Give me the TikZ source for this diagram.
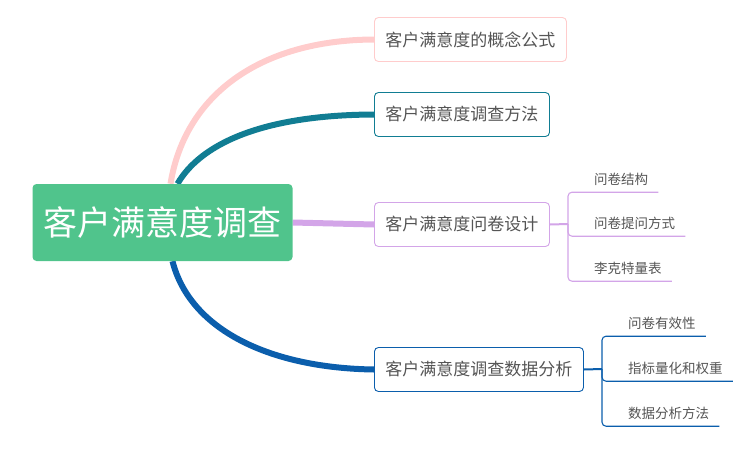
\documentclass[tikz,border=0pt]{standalone}
\usepackage{fontspec}
\setmainfont{Noto Sans CJK SC}
\usepackage{xcolor}
\usetikzlibrary{positioning,calc,backgrounds}
\definecolor{hubgreen}{HTML}{50C48C}
\definecolor{txtgray}{HTML}{555555}
\definecolor{brpink}{HTML}{FFCCCC}
\definecolor{brteal}{HTML}{117D93}
\definecolor{brlilac}{HTML}{D3A5E8}
\definecolor{brblue}{HTML}{0B5EAC}

\begin{document}
\begin{tikzpicture}[
  x=1pt,y=-1pt,
  hub/.style={rectangle,rounded corners=4pt,fill=hubgreen,text=white,
              font=\fontsize{34}{34}\selectfont,minimum height=77pt,inner xsep=11pt},
  topic/.style={rectangle,rounded corners=4pt,draw,line width=0.9pt,fill=white,text=txtgray,
                font=\fontsize{17}{17}\selectfont,minimum height=44pt,inner xsep=11pt,anchor=west},
  sub/.style={inner sep=0pt,minimum height=26pt,anchor=west,text=txtgray,
              font=\fontsize{13.5}{13.5}\selectfont},
  br/.style={line width=6pt},
  stem/.style={line width=2pt},
  uline/.style={line width=1.1pt,rounded corners=4pt}]

\useasboundingbox (0,0) rectangle (756,464);

% ================= central topic =================
\node[hub](hub) at (162.5,222.5){客户满意度调查};

% ================= main topics =================
\node[topic,draw=brpink](n1) at (374,39.5){客户满意度的概念公式};
\node[topic,draw=brteal](n2) at (374,114.5){客户满意度调查方法};
\node[topic,draw=brlilac](n3) at (374,224.5){客户满意度问卷设计};
\node[topic,draw=brblue](n4) at (374,369.5){客户满意度调查数据分析};

% main branches, under the hub
\begin{scope}[on background layer]
  \draw[br,brpink] ([xshift=8pt]hub.north) .. controls (185,95) and (260,40) .. (n1.west);
  \draw[br,brteal] ([xshift=15pt]hub.north) .. controls (200,145) and (260,115) .. (n2.west);
  \draw[br,brlilac] (hub.east) -- (n3.west);
  \draw[br,brblue] ([xshift=10pt]hub.south) .. controls (190,330) and (270,368) .. (n4.west);
\end{scope}

% ================= subtopics of n3 =================
\coordinate (j3) at (568,224);
\draw[stem,brlilac] (n3.east) -- (j3);
\node[sub](c31) at (594,179){问卷结构};
\node[sub](c32) at (594,223){问卷提问方式};
\node[sub](c33) at (594,268){李克特量表};
\foreach \c in {c31,c32,c33}
  \draw[uline,brlilac] (j3) |- ([xshift=10pt]\c.south east);

% ================= subtopics of n4 =================
\coordinate (j4) at (602,369);
\draw[stem,brblue] (n4.east) -- (j4);
\node[sub](c41) at (628,323){问卷有效性};
\node[sub](c42) at (628,368){指标量化和权重};
\node[sub](c43) at (628,413){数据分析方法};
\foreach \c in {c41,c42,c43}
  \draw[uline,brblue] (j4) |- ([xshift=10pt]\c.south east);
\end{tikzpicture}
\end{document}
